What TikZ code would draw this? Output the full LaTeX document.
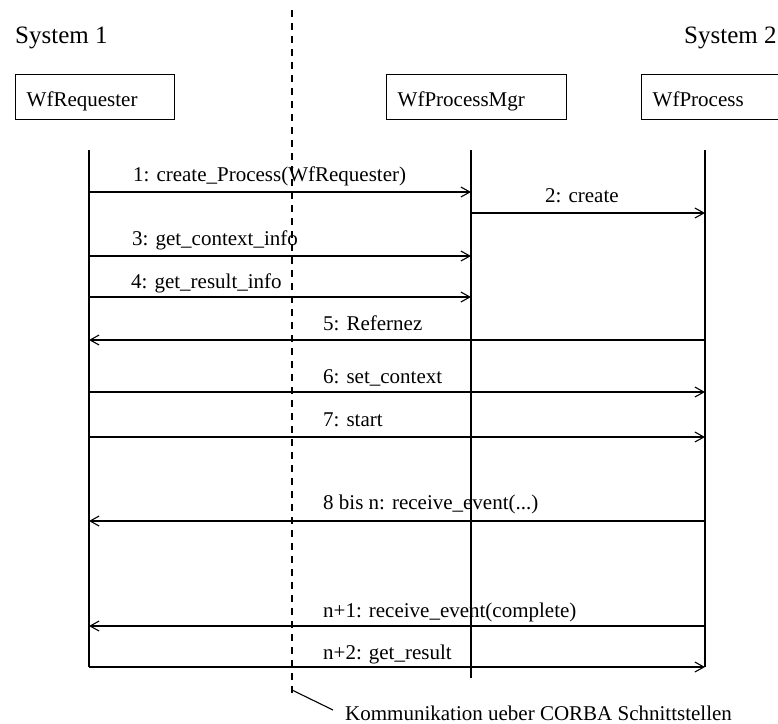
\documentclass[tikz,border=0pt]{standalone}
\usepackage{fontspec}
\setmainfont{Liberation Serif}
\usetikzlibrary{arrows.meta}
\begin{document}
\begin{tikzpicture}[x=1pt,y=-1pt,
  obj/.style={draw, line width=1.4pt, minimum height=45pt, inner ysep=0pt, inner xsep=11pt,
              text height=24pt, text depth=5pt, align=left, anchor=north west,
              font=\fontsize{21}{25}\selectfont},
  lbl/.style={font=\fontsize{21}{25}\selectfont, inner sep=0pt, anchor=base west},
  sys/.style={font=\fontsize{25}{30}\selectfont, inner sep=0pt, anchor=base west},
  life/.style={line width=1.4pt},
  msg/.style={line width=1.4pt, -{Straight Barb[length=9pt,width=10pt,line width=1.1pt]}},
  sepline/.style={line width=1.4pt, dash pattern=on 7pt off 6pt},
  notelink/.style={line width=1.1pt}]
\useasboundingbox (0,0) rectangle (778,723);
\fill[white] (0,0) rectangle (778,723);

% system titles
\node[sys] (s1) at (15,43) {System 1};
\node[sys] (s2) at (684,43) {System 2};

% objects
\node[obj, text width=137pt] (req) at (15,74) {WfRequester};
\node[obj, text width=158pt] (mgr) at (386,74) {WfProcessMgr};
\node[obj, text width=123pt] (proc) at (641,74) {WfProcess};

% lifelines
\coordinate (lReq) at (89,150);
\coordinate (lMgr) at (471,150);
\coordinate (lProc) at (705,150);
\coordinate (bReq) at (89,667);
\coordinate (bMgr) at (471,678);
\coordinate (bProc) at (705,667);
\draw[life] (lReq) -- (bReq);
\draw[life] (lMgr) -- (bMgr);
\draw[life] (lProc) -- (bProc);

% message rows
\coordinate (m1) at (0,192);
\coordinate (m2) at (0,213);
\coordinate (m3) at (0,256);
\coordinate (m4) at (0,297);
\coordinate (m5) at (0,340);
\coordinate (m6) at (0,392);
\coordinate (m7) at (0,437);
\coordinate (m8) at (0,521);
\coordinate (m9) at (0,626);
\coordinate (m10) at (0,667);

\draw[msg] (lReq |- m1) -- (lMgr |- m1);
\draw[msg] (lMgr |- m2) -- (lProc |- m2);
\draw[msg] (lReq |- m3) -- (lMgr |- m3);
\draw[msg] (lReq |- m4) -- (lMgr |- m4);
\draw[msg] (lProc |- m5) -- (lReq |- m5);
\draw[msg] (lReq |- m6) -- (lProc |- m6);
\draw[msg] (lReq |- m7) -- (lProc |- m7);
\draw[msg] (lProc |- m8) -- (lReq |- m8);
\draw[msg] (lProc |- m9) -- (lReq |- m9);
\draw[msg] (lReq |- m10) -- (lProc |- m10);

% separator
\coordinate (dTop) at (292,10);
\coordinate (dBot) at (292,697);
\draw[sepline] (dTop) -- (dBot);

% message labels
\node[lbl] (t1) at (133,181) {1: create\_Process(WfRequester)};
\node[lbl] (t2) at (545,202) {2: create};
\node[lbl] (t3) at (132,245) {3: get\_context\_info};
\node[lbl] (t4) at (131,288) {4: get\_result\_info};
\node[lbl] (t5) at (323,330) {5: Refernez};
\node[lbl] (t6) at (323,383) {6: set\_context};
\node[lbl] (t7) at (323,426) {7: start};
\node[lbl] (t8) at (323,509) {8 bis n: receive\_event(...)};
\node[lbl] (t9) at (323,617) {n+1: receive\_event(complete)};
\node[lbl] (t10) at (323,659) {n+2: get\_result};

% note
\node[lbl] (note) at (345,720) {Kommunikation ueber CORBA Schnittstellen};
\coordinate (nS) at (292,690);
\coordinate (nE) at (333,710);
\draw[notelink] (nS) -- (nE);
\end{tikzpicture}
\end{document}
